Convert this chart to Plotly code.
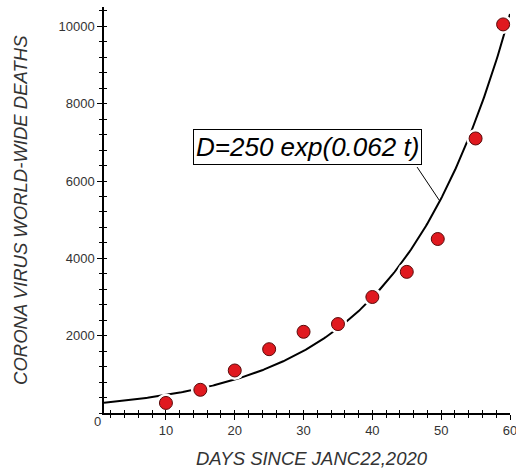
import numpy as np
import plotly.graph_objects as go

# Observed data
days = [10, 15, 20, 25, 30, 35, 40, 45, 49.5, 55, 59]
deaths = [260, 600, 1100, 1650, 2100, 2300, 3000, 3650, 4500, 7100, 10050]

# Fitted model shown on chart: D = A exp(k t)
A = 250
k = 0.062
t_fit = np.linspace(1, 60, 300)
d_fit = A * np.exp(k * t_fit)

x_ticks = [10, 20, 30, 40, 50, 60]
y_ticks = [2000, 4000, 6000, 8000, 10000]
label_text = "D=250 exp(0.062 t)"
x_title = "DAYS SINCE JANC22,2020"
y_title = "CORONA VIRUS WORLD-WIDE DEATHS"

fig = go.Figure()
fig.add_trace(go.Scatter(x=t_fit, y=d_fit, mode="lines",
                         line=dict(color="black", width=2), cliponaxis=True,
                         hoverinfo="skip"))
fig.add_trace(go.Scatter(x=days, y=deaths, mode="markers",
                         marker=dict(size=19, color="white"), cliponaxis=False))
fig.add_trace(go.Scatter(x=days, y=deaths, mode="markers",
                         marker=dict(size=13, color="#e0191f",
                                     line=dict(color="#5a0a0a", width=1)),
                         cliponaxis=False))
fig.add_trace(go.Scatter(x=[None], y=[None], xaxis="x2", yaxis="y2", showlegend=False))

tickfont = dict(family="Liberation Sans, Arial", size=13, color="#333333")
titlefont = dict(family="Liberation Sans, Arial", size=18.5, color="#333333", style="italic")

fig.update_layout(
    width=516, height=469,
    margin=dict(l=104, r=6, t=7, b=56),
    paper_bgcolor="white", plot_bgcolor="white",
    showlegend=False,
    xaxis=dict(range=[1, 60], tickvals=x_ticks, ticks="outside", ticklen=5,
               tickcolor="black", tickwidth=1, showline=True, linecolor="black",
               linewidth=1.5, showgrid=False, zeroline=False, tickfont=tickfont,
               automargin=False, ticklabeloverflow="allow",
               minor=dict(dtick=2, tick0=0, ticks="outside", ticklen=3, tickcolor="black")),
    yaxis=dict(range=[0, 10500], tickvals=y_ticks, ticktext=[str(v) for v in y_ticks],
               ticks="outside", ticklen=5,
               tickcolor="black", tickwidth=1, showline=True, linecolor="black",
               linewidth=1.5, showgrid=False, zeroline=False, tickfont=tickfont,
               automargin=False,
               minor=dict(dtick=400, tick0=0, ticks="outside", ticklen=3, tickcolor="black")),
    xaxis2=dict(range=[1, 60], overlaying="x", anchor="y", tickvals=x_ticks,
                ticks="inside", ticklen=3, tickcolor="black", showticklabels=False,
                showgrid=False, zeroline=False, showline=False, automargin=False,
                minor=dict(dtick=2, tick0=0, ticks="inside", ticklen=3, tickcolor="black"),
                side="bottom"),
    yaxis2=dict(range=[0, 10500], overlaying="y", anchor="x", tickvals=y_ticks,
                ticks="inside", ticklen=3, tickcolor="black", showticklabels=False,
                showgrid=False, zeroline=False, showline=False, automargin=False,
                minor=dict(dtick=400, tick0=0, ticks="inside", ticklen=3, tickcolor="black"),
                side="left"),
)

# origin label
fig.add_annotation(x=-0.017, y=-0.022, xref="paper", yref="paper", text="0",
                   showarrow=False, font=tickfont, xanchor="center", yanchor="middle")
# axis titles
fig.add_annotation(x=0.512, y=-0.111, xref="paper", yref="paper", text=x_title,
                   showarrow=False, font=titlefont, xanchor="center", yanchor="middle")
fig.add_annotation(x=-0.207, y=0.5, xref="paper", yref="paper", text=y_title,
                   showarrow=False, font=titlefont, textangle=-90,
                   xanchor="center", yanchor="middle")

fig.add_annotation(x=30.57, y=6890, xref="x", yref="y", text=label_text,
                   showarrow=False, font=dict(family="Liberation Sans, Arial", size=26,
                                              color="black", style="italic"),
                   bgcolor="white", bordercolor="black", borderwidth=1, borderpad=2)
fig.add_shape(type="line", x0=46.5, y0=6360, x1=49.8, y1=A * np.exp(k * 49.8),
              xref="x", yref="y", line=dict(color="black", width=1))

fig.write_html("out.html", config={"displayModeBar": False},
               post_script="document.body.style.margin='0';document.body.style.overflow='hidden';")
